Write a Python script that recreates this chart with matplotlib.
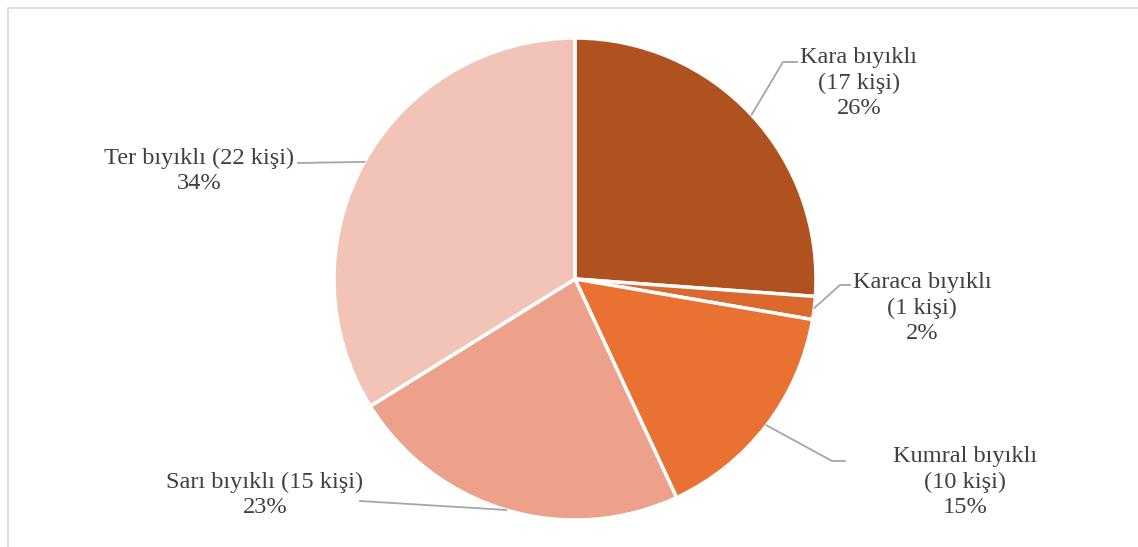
import numpy as np
import matplotlib.pyplot as plt

# data
labels = ["Kara bıyıklı\n(17 kişi)", "Karaca bıyıklı\n(1 kişi)", "Kumral bıyıklı\n(10 kişi)",
          "Sarı bıyıklı (15 kişi)", "Ter bıyıklı (22 kişi)"]
counts = [17, 1, 10, 15, 22]
colors = ["#B05220", "#D9692C", "#E97132", "#EDA18A", "#F2C4B8"]

# label layout (pixel coords, y measured from top)
text_pos = [(859, 83), (922, 308), (965, 482), (265, 495), (199, 171)]
elbow = [(783, 62), (840, 285), (832, 461), (360, 501), (298, 163)]
tail = [(797, 62), (850, 285), (845, 461), (360, 501), (298, 163)]

W, H = 1138, 547
fig = plt.figure(figsize=(W / 100, H / 100), dpi=100)
ax = fig.add_axes([0, 0, 1, 1])

cx, cy, r = 575, H - 279, 241
wedges, _ = ax.pie(counts, colors=colors, startangle=90, counterclock=False,
                   center=(cx, cy), radius=r, frame=True,
                   wedgeprops=dict(edgecolor="white", linewidth=2.5))
ax.set_xlim(0, W)
ax.set_ylim(0, H)
ax.set_aspect("equal")
ax.axis("off")

# chart border
ax.plot([8, 8, W + 5], [-5, H - 7.5, H - 7.5], color="#D9D9D9", lw=1.2, clip_on=False)

total = sum(counts)
for w, lab, c, tp, el, tl in zip(wedges, labels, counts, text_pos, elbow, tail):
    mid = np.deg2rad((w.theta1 + w.theta2) / 2)
    sx, sy = cx + r * np.cos(mid), cy + r * np.sin(mid)
    ax.plot([sx, el[0], tl[0]], [sy, H - el[1], H - tl[1]], color="#A6A6A6", lw=1.3)
    pct = f"{round(100 * c / total)}%"
    ax.text(tp[0], H - tp[1], f"{lab}\n{pct}", ha="center", va="center",
            fontsize=17.6, family="Liberation Serif", color="#404040", linespacing=1.27)

fig.savefig("out.png", dpi=100)
